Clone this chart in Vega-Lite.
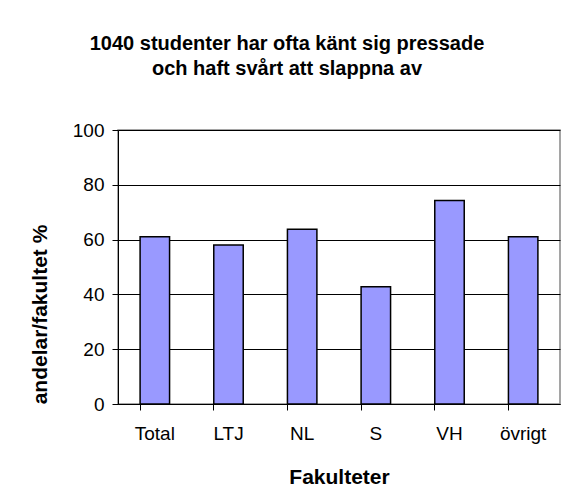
{
  "$schema": "https://vega.github.io/schema/vega-lite/v6.json",
  "autosize": {"type": "none"},
  "padding": {"left": 118, "top": 130, "right": 11, "bottom": 99},
  "width": 442,
  "height": 274,
  "background": "white",
  "title": {
    "text": ["1040 studenter har ofta känt sig pressade", "och haft svårt att slappna av"],
    "font": "Liberation Sans",
    "fontSize": 20,
    "fontWeight": "bold",
    "lineHeight": 25,
    "color": "black",
    "anchor": "middle",
    "dx": -52,
    "offset": 42
  },
  "data": {
    "values": [
      {"fakultet": "Total", "andel": 61},
      {"fakultet": "LTJ", "andel": 58},
      {"fakultet": "NL", "andel": 63.8},
      {"fakultet": "S", "andel": 42.8},
      {"fakultet": "VH", "andel": 74.3},
      {"fakultet": "övrigt", "andel": 61}
    ]
  },
  "mark": {"type": "bar", "color": "#9999FF", "stroke": "black", "strokeWidth": 1.5},
  "encoding": {
    "x": {
      "field": "fakultet",
      "type": "nominal",
      "sort": null,
      "scale": {"paddingInner": 0.6, "paddingOuter": 0.3},
      "axis": {
        "title": "Fakulteter",
        "titleFont": "Liberation Sans",
        "titleFontSize": 21,
        "titleFontWeight": "bold",
        "titleColor": "black",
        "titleBaseline": "alphabetic",
        "titleY": 79,
        "labelFont": "Liberation Sans",
        "labelFontSize": 19,
        "labelColor": "black",
        "labelAngle": 0,
        "labelPadding": 14,
        "bandPosition": 0,
        "tickSize": 6,
        "tickColor": "black",
        "domainColor": "black",
        "grid": false
      }
    },
    "y": {
      "field": "andel",
      "type": "quantitative",
      "scale": {"domain": [0, 100]},
      "axis": {
        "title": "andelar/fakultet %",
        "titleFont": "Liberation Sans",
        "titleFontSize": 21,
        "titleFontWeight": "bold",
        "titleColor": "black",
        "titleBaseline": "middle",
        "titleX": -78,
        "titleY": 184,
        "titleAngle": -90,
        "values": [0, 20, 40, 60, 80, 100],
        "labelFont": "Liberation Sans",
        "labelFontSize": 19,
        "labelColor": "black",
        "labelPadding": 8,
        "tickSize": 6,
        "tickColor": "black",
        "domainColor": "black",
        "grid": true,
        "gridColor": "black",
        "gridOpacity": 1
      }
    }
  },
  "config": {
    "view": {"stroke": "#888888", "strokeWidth": 1.5}
  }
}
